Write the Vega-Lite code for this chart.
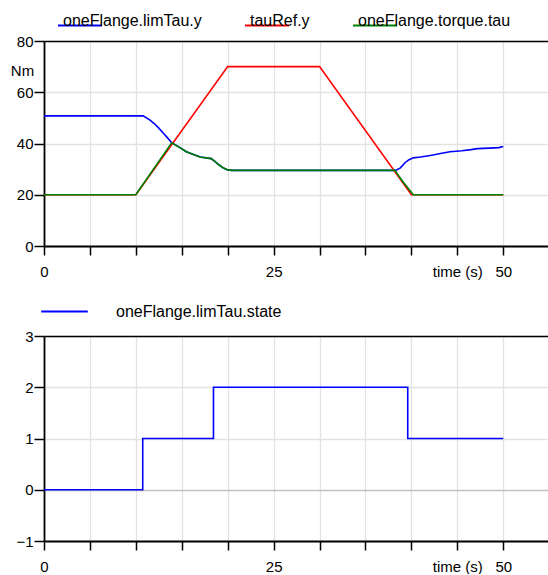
{
  "$schema": "https://vega.github.io/schema/vega-lite/v6.json",
  "padding": {"left": 10, "top": 2, "right": 0, "bottom": 0},
  "config": {
    "view": {"stroke": null},
    "font": "Liberation Sans",
    "axis": {
      "labelFont": "Liberation Sans", "labelFontSize": 15, "labelColor": "#000000",
      "domainColor": "#000000", "domainWidth": 1.8,
      "tickColor": "#000000", "tickWidth": 1.5,
      "gridColor": "#e2e2e2", "gridWidth": 1.3
    },
    "legend": {
      "labelFont": "Liberation Sans", "labelFontSize": 16, "labelColor": "#000000", "labelLimit": 400,
      "padding": 0, "symbolType": "stroke", "symbolStrokeWidth": 2, "title": null
    }
  },
  "datasets": {
    "top": [
      {"t": 0, "v": 50.8, "series": "oneFlange.limTau.y"},
      {"t": 10.8, "v": 50.8, "series": "oneFlange.limTau.y"},
      {"t": 11.5, "v": 49.2, "series": "oneFlange.limTau.y"},
      {"t": 12, "v": 47.8, "series": "oneFlange.limTau.y"},
      {"t": 12.5, "v": 46, "series": "oneFlange.limTau.y"},
      {"t": 13, "v": 44, "series": "oneFlange.limTau.y"},
      {"t": 13.5, "v": 42, "series": "oneFlange.limTau.y"},
      {"t": 13.9, "v": 40.3, "series": "oneFlange.limTau.y"},
      {"t": 14.8, "v": 38.4, "series": "oneFlange.limTau.y"},
      {"t": 15.5, "v": 36.8, "series": "oneFlange.limTau.y"},
      {"t": 16.2, "v": 35.8, "series": "oneFlange.limTau.y"},
      {"t": 17, "v": 34.7, "series": "oneFlange.limTau.y"},
      {"t": 18.2, "v": 34.1, "series": "oneFlange.limTau.y"},
      {"t": 18.6, "v": 33, "series": "oneFlange.limTau.y"},
      {"t": 19, "v": 31.8, "series": "oneFlange.limTau.y"},
      {"t": 19.5, "v": 30.5, "series": "oneFlange.limTau.y"},
      {"t": 20, "v": 29.7, "series": "oneFlange.limTau.y"},
      {"t": 20.5, "v": 29.5, "series": "oneFlange.limTau.y"},
      {"t": 38.3, "v": 29.5, "series": "oneFlange.limTau.y"},
      {"t": 38.8, "v": 30.5, "series": "oneFlange.limTau.y"},
      {"t": 39.3, "v": 32.5, "series": "oneFlange.limTau.y"},
      {"t": 39.7, "v": 33.6, "series": "oneFlange.limTau.y"},
      {"t": 40.2, "v": 34.4, "series": "oneFlange.limTau.y"},
      {"t": 41, "v": 34.7, "series": "oneFlange.limTau.y"},
      {"t": 41.7, "v": 35.1, "series": "oneFlange.limTau.y"},
      {"t": 42.5, "v": 35.6, "series": "oneFlange.limTau.y"},
      {"t": 43.3, "v": 36.2, "series": "oneFlange.limTau.y"},
      {"t": 44.2, "v": 36.8, "series": "oneFlange.limTau.y"},
      {"t": 45.5, "v": 37.2, "series": "oneFlange.limTau.y"},
      {"t": 46.5, "v": 37.6, "series": "oneFlange.limTau.y"},
      {"t": 47.2, "v": 38, "series": "oneFlange.limTau.y"},
      {"t": 48.5, "v": 38.2, "series": "oneFlange.limTau.y"},
      {"t": 49.5, "v": 38.4, "series": "oneFlange.limTau.y"},
      {"t": 50, "v": 38.8, "series": "oneFlange.limTau.y"},
      {"t": 0, "v": 20, "series": "tauRef.y"},
      {"t": 10, "v": 20, "series": "tauRef.y"},
      {"t": 20, "v": 70, "series": "tauRef.y"},
      {"t": 30, "v": 70, "series": "tauRef.y"},
      {"t": 40, "v": 20, "series": "tauRef.y"},
      {"t": 50, "v": 20, "series": "tauRef.y"},
      {"t": 0, "v": 20, "series": "oneFlange.torque.tau"},
      {"t": 10, "v": 20, "series": "oneFlange.torque.tau"},
      {"t": 13.9, "v": 40.3, "series": "oneFlange.torque.tau"},
      {"t": 14.8, "v": 38.4, "series": "oneFlange.torque.tau"},
      {"t": 15.5, "v": 36.8, "series": "oneFlange.torque.tau"},
      {"t": 16.2, "v": 35.8, "series": "oneFlange.torque.tau"},
      {"t": 17, "v": 34.7, "series": "oneFlange.torque.tau"},
      {"t": 18.2, "v": 34.1, "series": "oneFlange.torque.tau"},
      {"t": 18.6, "v": 33, "series": "oneFlange.torque.tau"},
      {"t": 19, "v": 31.8, "series": "oneFlange.torque.tau"},
      {"t": 19.5, "v": 30.5, "series": "oneFlange.torque.tau"},
      {"t": 20, "v": 29.7, "series": "oneFlange.torque.tau"},
      {"t": 20.5, "v": 29.5, "series": "oneFlange.torque.tau"},
      {"t": 38.2, "v": 29.5, "series": "oneFlange.torque.tau"},
      {"t": 39, "v": 25.5, "series": "oneFlange.torque.tau"},
      {"t": 40.2, "v": 20, "series": "oneFlange.torque.tau"},
      {"t": 50, "v": 20, "series": "oneFlange.torque.tau"}
    ],
    "state": [
      {"t": 0, "state": 0, "series": "oneFlange.limTau.state"},
      {"t": 10.75, "state": 1, "series": "oneFlange.limTau.state"},
      {"t": 18.45, "state": 2, "series": "oneFlange.limTau.state"},
      {"t": 39.6, "state": 1, "series": "oneFlange.limTau.state"},
      {"t": 50, "state": 1, "series": "oneFlange.limTau.state"}
    ]
  },
  "resolve": {"scale": {"color": "independent", "y": "independent"}, "legend": {"color": "independent"}},
  "spacing": 8,
  "vconcat": [
    {
      "width": 504,
      "height": 205,
      "data": {"name": "top"},
      "resolve": {"axis": {"x": "independent"}},
      "encoding": {
        "y": {
          "field": "v", "type": "quantitative",
          "scale": {"domain": [0, 80], "nice": false, "zero": false},
          "axis": {
            "values": [0, 20, 40, 60, 80], "tickSize": 10, "labelPadding": 1,
            "title": "Nm", "titleAngle": 0, "titleX": -22, "titleY": 29,
            "titleAlign": "center", "titleBaseline": "middle",
            "titleFont": "Liberation Sans", "titleFontSize": 15, "titleFontWeight": "normal", "titleColor": "#000000"
          }
        },
        "color": {
          "field": "series", "type": "nominal",
          "scale": {
            "domain": ["oneFlange.limTau.y", "tauRef.y", "oneFlange.torque.tau"],
            "range": ["#0000ff", "#ff0000", "#008000"]
          },
          "legend": {
            "orient": "none", "direction": "horizontal", "legendX": 13, "legendY": -38.4,
            "symbolSize": 1936, "labelOffset": -40, "labelBaseline": "alphabetic", "columnPadding": 39
          }
        }
      },
      "layer": [
        {
          "transform": [{"filter": "datum.series !== 'oneFlange.torque.tau'"}],
          "mark": {"type": "line", "strokeWidth": 1.6},
          "encoding": {
            "x": {
              "field": "t", "type": "quantitative",
              "scale": {"domain": [0, 54.87], "nice": false, "zero": false},
              "axis": {
                "orient": "bottom", "title": null,
                "values": [0, 5, 10, 15, 20, 25, 30, 35, 40, 45, 50],
                "tickSize": 9, "labelPadding": 9, "labelFlush": false, "labelOverlap": false,
                "labelExpr": "datum.value == 45 ? 'time (s)' : (datum.value % 25 == 0 ? datum.label : '')"
              }
            }
          }
        },
        {
          "transform": [{"filter": "datum.series === 'oneFlange.torque.tau'"}],
          "mark": {"type": "line", "strokeWidth": 1.6},
          "encoding": {
            "x": {
              "field": "t", "type": "quantitative",
              "scale": {"domain": [0, 54.87], "nice": false, "zero": false},
              "axis": {"orient": "top", "title": null, "labels": false, "ticks": false, "grid": false, "domainWidth": 1.5}
            }
          }
        }
      ]
    },
    {
      "width": 504,
      "height": 205,
      "data": {"name": "state"},
      "resolve": {"axis": {"x": "independent"}},
      "encoding": {
        "y": {
          "field": "state", "type": "quantitative",
          "scale": {"domain": [-1, 3], "nice": false, "zero": false},
          "axis": {
            "values": [-1, 0, 1, 2, 3], "tickSize": 10, "labelPadding": 1, "title": null,
            "gridColor": {"condition": {"test": "datum.value === 0", "value": "#c0c0c0"}, "value": "#e2e2e2"}
          }
        },
        "color": {
          "field": "series", "type": "nominal",
          "scale": {"domain": ["oneFlange.limTau.state"], "range": ["#0000ff"]},
          "legend": {
            "orient": "none", "legendX": -4, "legendY": -49,
            "symbolSize": 2170, "labelOffset": 27, "labelBaseline": "middle"
          }
        }
      },
      "layer": [
        {
          "mark": {"type": "line", "strokeWidth": 1.6, "interpolate": "step-after"},
          "encoding": {
            "x": {
              "field": "t", "type": "quantitative",
              "scale": {"domain": [0, 54.87], "nice": false, "zero": false},
              "axis": {
                "orient": "bottom", "title": null,
                "values": [0, 5, 10, 15, 20, 25, 30, 35, 40, 45, 50],
                "tickSize": 9, "labelPadding": 9, "labelFlush": false, "labelOverlap": false,
                "labelExpr": "datum.value == 45 ? 'time (s)' : (datum.value % 25 == 0 ? datum.label : '')"
              }
            }
          }
        },
        {
          "mark": {"type": "line", "strokeWidth": 1.6, "interpolate": "step-after", "opacity": 0},
          "encoding": {
            "x": {
              "field": "t", "type": "quantitative",
              "scale": {"domain": [0, 54.87], "nice": false, "zero": false},
              "axis": {"orient": "top", "title": null, "labels": false, "ticks": false, "grid": false, "domainWidth": 1.5}
            }
          }
        }
      ]
    }
  ]
}
